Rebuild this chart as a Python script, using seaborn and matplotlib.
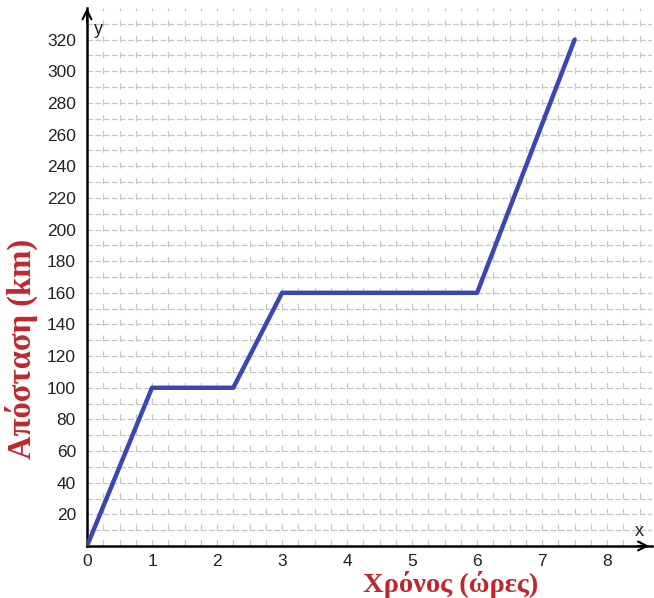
import numpy as np
import pandas as pd
import matplotlib
matplotlib.use("Agg")
import matplotlib.pyplot as plt
import seaborn as sns
from matplotlib.ticker import MultipleLocator

# dati
hours = [0, 1, 2.25, 3, 6, 7.5]
distance = [0, 100, 100, 160, 160, 320]
x_ticks = [0, 1, 2, 3, 4, 5, 6, 7, 8]
y_ticks = list(range(20, 340, 20))

df = pd.DataFrame({"x": hours, "y": distance})

sns.set_style("white")
plt.rcParams["font.family"] = ["Liberation Sans", "DejaVu Sans"]

fig = plt.figure(figsize=(6.54, 5.98), dpi=100)
ax = fig.add_axes([87 / 654, 52 / 598, 565 / 654, 538 / 598])

xmax, ymax = 8.69, 340

# griglia tratteggiata
for gx in np.arange(0.25, xmax, 0.25):
    ax.axvline(gx, color="#c6c6c6", lw=0.9, dashes=(5.0, 7.6), zorder=0)
for gy in np.arange(10, ymax, 10):
    ax.axhline(gy, color="#c6c6c6", lw=0.9, dashes=(4.6, 1.9), zorder=0)

sns.lineplot(data=df, x="x", y="y", ax=ax, color="#3b46b3", lw=3.2,
             sort=False, estimator=None, zorder=3)

ax.set_xlim(0, xmax)
ax.set_ylim(0, ymax)
ax.set_xlabel("")
ax.set_ylabel("")

for s in ["top", "right"]:
    ax.spines[s].set_visible(False)
for s in ["left", "bottom"]:
    ax.spines[s].set_color("black")
    ax.spines[s].set_linewidth(1.8)

ax.set_xticks(x_ticks)
ax.set_yticks(y_ticks)
ax.xaxis.set_minor_locator(MultipleLocator(0.5))
ax.yaxis.set_minor_locator(MultipleLocator(10))
ax.tick_params(axis="both", which="major", direction="out", length=5, width=1.8,
               labelsize=12.5, labelcolor="#222222", color="black")
ax.tick_params(axis="both", which="minor", direction="out", length=3, width=1.8,
               color="black")
ax.tick_params(axis="x", pad=1)
ax.tick_params(axis="y", pad=3)

# frecce degli assi
ax.annotate("", xy=(1.0, 0), xycoords="axes fraction", xytext=(0.97, 0),
            arrowprops=dict(arrowstyle="->", lw=1.5, color="black",
                            mutation_scale=16), annotation_clip=False)
ax.annotate("", xy=(0, 1.005), xycoords="axes fraction", xytext=(0, 0.97),
            arrowprops=dict(arrowstyle="->", lw=1.5, color="black",
                            mutation_scale=16), annotation_clip=False)
ax.text(0.977, 0.012, "x", transform=ax.transAxes, fontsize=13,
        ha="center", va="bottom", color="#222222")
ax.text(0.012, 0.975, "y", transform=ax.transAxes, fontsize=13,
        ha="left", va="top", color="#222222")

red = "#c0272d"
fig.text(451 / 654, 0.5 / 598, "Χρόνος (ώρες)", ha="center", va="bottom",
         fontsize=20.5, fontweight="bold", color=red,
         family=["Liberation Serif", "DejaVu Serif"])
fig.text(21 / 654, 1 - 349 / 598, "Απόσταση (km)", ha="center", va="center",
         rotation=90, fontsize=23.5, fontweight="bold", color=red,
         family=["Liberation Serif", "DejaVu Serif"])

fig.savefig("out.png", dpi=100)
